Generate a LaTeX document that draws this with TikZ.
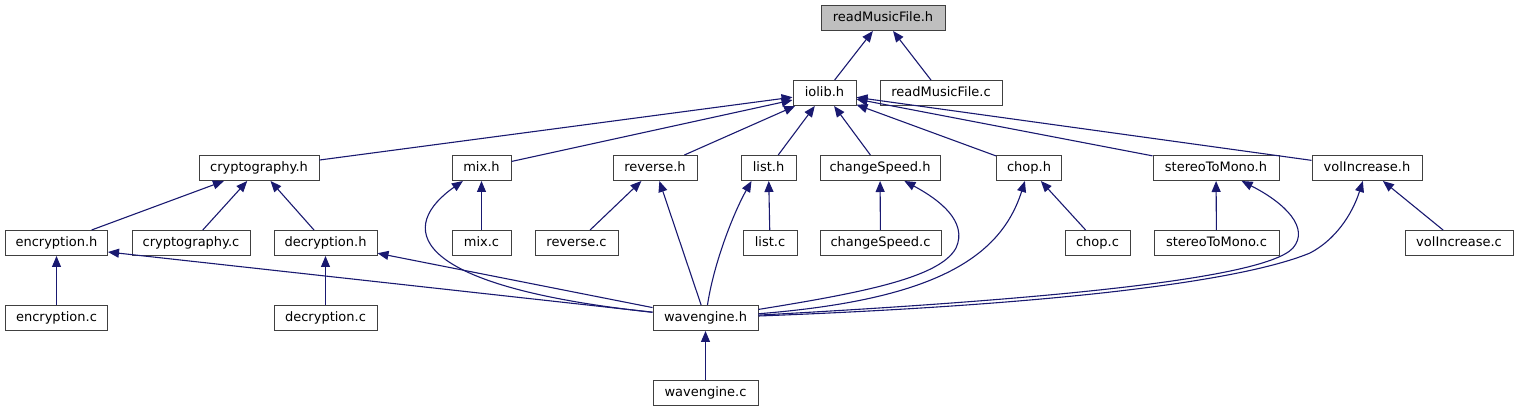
\documentclass[tikz,border=0pt]{standalone}
\usepackage{fontspec}
\setmainfont{DejaVu Sans}
\usetikzlibrary{arrows.meta}
\definecolor{edgeblue}{HTML}{191970}
\definecolor{boxgray}{HTML}{404040}
\definecolor{rootfill}{HTML}{BFBFBF}
\begin{document}
\begin{tikzpicture}[x=1pt,y=-1pt,
  file/.style={draw=boxgray, line width=1pt, fill=white, rectangle, inner sep=0pt,
    minimum height=25pt, font=\fontsize{13}{15}\selectfont, text height=9.9pt, text depth=3pt},
  dep/.style={draw=edgeblue, line width=1.1pt, -{Triangle[length=11pt,width=9pt]}}]
\useasboundingbox (0,0) rectangle (1519,411);
% row 0
\node[file,minimum width=124pt,fill=rootfill] (rmh) at (883,18) {readMusicFile.h};
% row 1
\node[file,minimum width=63pt] (iolib) at (824.5,93) {iolib.h};
\node[file,minimum width=122pt] (rmc) at (941,93) {readMusicFile.c};
% row 2
\node[file,minimum width=120pt] (cryh) at (259,168) {cryptography.h};
\node[file,minimum width=59pt] (mixh) at (481.5,168) {mix.h};
\node[file,minimum width=84pt] (revh) at (655,168) {reverse.h};
\node[file,minimum width=55pt] (listh) at (768.5,168) {list.h};
\node[file,minimum width=120pt] (csh) at (880,168) {changeSpeed.h};
\node[file,minimum width=65pt] (choph) at (1029,168) {chop.h};
\node[file,minimum width=126pt] (stmh) at (1216,168) {stereoToMono.h};
\node[file,minimum width=110pt] (vih) at (1367,168) {volIncrease.h};
% row 3
\node[file,minimum width=102pt] (ench) at (56.5,243) {encryption.h};
\node[file,minimum width=118pt] (cryc) at (191,243) {cryptography.c};
\node[file,minimum width=103pt] (dech) at (325.5,243) {decryption.h};
\node[file,minimum width=59pt] (mixc) at (481.5,243) {mix.c};
\node[file,minimum width=83pt] (revc) at (576.5,243) {reverse.c};
\node[file,minimum width=54pt] (listc) at (770,243) {list.c};
\node[file,minimum width=121pt] (csc) at (880.5,243) {changeSpeed.c};
\node[file,minimum width=65pt] (chopc) at (1097.5,243) {chop.c};
\node[file,minimum width=125pt] (stmc) at (1216.5,243) {stereoToMono.c};
\node[file,minimum width=108pt] (vic) at (1459,243) {volIncrease.c};
% row 4
\node[file,minimum width=102pt] (encc) at (56.5,318) {encryption.c};
\node[file,minimum width=103pt] (decc) at (325.5,318) {decryption.c};
\node[file,minimum width=105pt] (wavh) at (705.5,318) {wavengine.h};
% row 5
\node[file,minimum width=105pt] (wavc) at (705.5,393) {wavengine.c};
% edges
\draw[dep] (iolib) -- (rmh);
\draw[dep] (rmc) -- (rmh);
\draw[dep] (cryh) -- (iolib);
\draw[dep] (mixh) -- (iolib);
\draw[dep] (revh) -- (iolib);
\draw[dep] (listh) -- (iolib);
\draw[dep] (csh) -- (iolib);
\draw[dep] (choph) -- (iolib);
\draw[dep] (stmh) -- (iolib);
\draw[dep] (vih) -- (iolib);
\draw[dep] (ench) -- (cryh);
\draw[dep] (cryc) -- (cryh);
\draw[dep] (dech) -- (cryh);
\draw[dep] (mixc) -- (mixh);
\draw[dep] (revc) -- (revh);
\draw[dep] (listc) -- (listh);
\draw[dep] (csc) -- (csh);
\draw[dep] (chopc) -- (choph);
\draw[dep] (stmc) -- (stmh);
\draw[dep] (vic) -- (vih);
\draw[dep] (encc) -- (ench);
\draw[dep] (decc) -- (dech);
\draw[dep] (wavc) -- (wavh);
\draw[dep] (wavh) -- ([yshift=-9pt]ench.east);
\draw[dep] (wavh) -- (dech);
\draw[dep] (wavh) -- (revh);
\draw[dep] (wavh) .. controls (400,285) and (400,225) .. (mixh);
\draw[dep] (wavh) .. controls (714,262) and (734,212) .. ([xshift=11pt]listh.south west);
\draw[dep] (wavh) .. controls (860,293) and (940,278) .. (956,248) .. controls (968,222) and (940,200) .. (csh);
\draw[dep] (wavh) .. controls (930,300) and (1000,260) .. (choph);
\draw[dep] (wavh) .. controls (1000,302) and (1262,282) .. (1293,248) .. controls (1310,228) and (1285,203) .. (stmh);
\draw[dep] (wavh) .. controls (1050,305) and (1240,282) .. (1310,253) .. controls (1335,240) and (1352,215) .. (vih);
\end{tikzpicture}
\end{document}
